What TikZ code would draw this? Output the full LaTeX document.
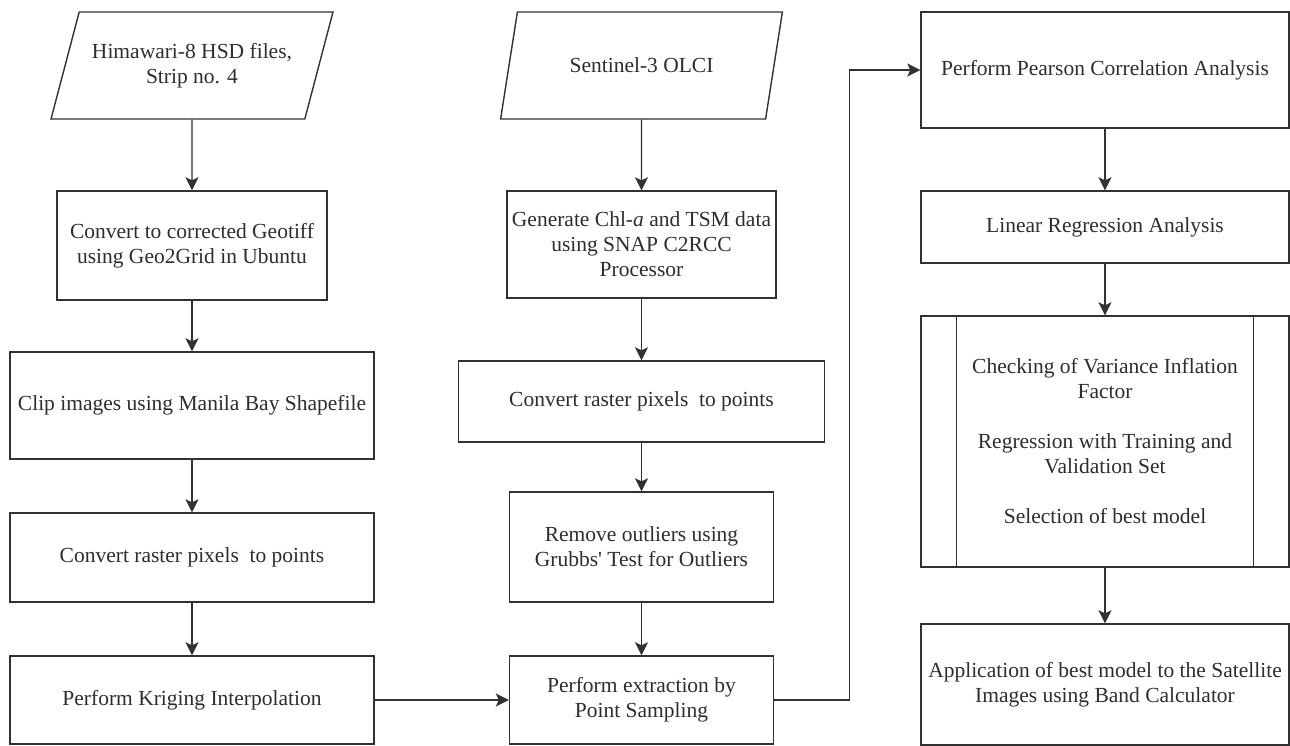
\documentclass[tikz,border=0pt]{standalone}
\usepackage{fontspec}
\setmainfont{Liberation Serif}
\usetikzlibrary{arrows.meta,shapes.geometric}
\definecolor{linegray}{RGB}{50,50,50}
\definecolor{textgray}{RGB}{45,45,45}
\tikzset{
    procbox/.style={draw=linegray, line width=1.4pt, rectangle, align=center,
        inner sep=2pt, text=textgray, font=\fontsize{21.5}{25}\selectfont},
    iobox/.style={procbox, trapezium, trapezium left angle=62.4,
        trapezium right angle=117.6, trapezium stretches=true,
        minimum width=282pt, minimum height=107pt},
    flow/.style={draw=linegray, line width=1.4pt,
        -{Stealth[length=13pt,width=13pt,inset=3pt]}},
}
\begin{document}
\begin{tikzpicture}[x=1pt, y=-1pt]
        \useasboundingbox (0, 0) rectangle (1290, 745);

        % Himawari branch
        \node[iobox] (himawari) at (192, 65.5) {Himawari-8 HSD files,\\Strip no. 4};
        \node[procbox, minimum width=270pt, minimum height=109pt] (geotiff) at (192, 245.5)
            {Convert to corrected Geotiff\\using Geo2Grid in Ubuntu};
        \node[procbox, minimum width=364pt, minimum height=107pt] (clip) at (192, 405.5)
            {Clip images using Manila Bay Shapefile};
        \node[procbox, minimum width=364pt, minimum height=89pt] (rastera) at (192, 557.5)
            {Convert raster pixels\ \ to points};
        \node[procbox, minimum width=364pt, minimum height=88pt] (kriging) at (192, 700)
            {Perform Kriging Interpolation};

        % Sentinel branch
        \node[iobox] (sentinel) at (641.5, 65.5) {Sentinel-3 OLCI};
        \node[procbox, minimum width=269pt, minimum height=107pt] (generate) at (641.5, 244.5)
            {Generate Chl-\textit{a} and TSM data\\using SNAP C2RCC\\Processor};
        \node[procbox, minimum width=366pt, minimum height=81pt] (rasterb) at (641.5, 401.5)
            {Convert raster pixels\ \ to points};
        \node[procbox, minimum width=264pt, minimum height=110pt] (outliers) at (641.5, 547)
            {Remove outliers using\\Grubbs\textquotesingle{} Test for Outliers};
        \node[procbox, minimum width=264pt, minimum height=88pt] (extraction) at (641.5, 700)
            {Perform extraction by\\Point Sampling};

        % analysis column
        \node[procbox, minimum width=368pt, minimum height=116pt] (pearson) at (1105, 70)
            {Perform Pearson Correlation Analysis};
        \node[procbox, minimum width=368pt, minimum height=72pt] (linreg) at (1105, 227)
            {Linear Regression Analysis};
        \node[procbox, minimum width=368pt, minimum height=251pt] (vif) at (1105, 441.5)
            {Checking of Variance Inflation\\Factor\\[25pt]Regression with Training and\\Validation Set\\[25pt]Selection of best model};
        \draw[linegray, line width=1.4pt] ([xshift=36pt]vif.north west) -- ([xshift=36pt]vif.south west);
        \draw[linegray, line width=1.4pt] ([xshift=-36pt]vif.north east) -- ([xshift=-36pt]vif.south east);
        \node[procbox, minimum width=368pt, minimum height=121pt] (applic) at (1105, 684.5)
            {Application of best model to the Satellite\\Images using Band Calculator};

        \draw[flow] (himawari.south) -- (geotiff.north);
        \draw[flow] (geotiff) -- (clip);
        \draw[flow] (clip) -- (rastera);
        \draw[flow] (rastera) -- (kriging);
        \draw[flow] (kriging) -- (extraction);

        \draw[flow] (sentinel.south) -- (generate.north);
        \draw[flow] (generate) -- (rasterb);
        \draw[flow] (rasterb) -- (outliers);
        \draw[flow] (outliers) -- (extraction);
        \draw[flow] (extraction.east) -- ++(75, 0) |- (pearson.west);

        \draw[flow] (pearson) -- (linreg);
        \draw[flow] (linreg) -- (vif);
        \draw[flow] (vif) -- (applic);
    \end{tikzpicture}
\end{document}
